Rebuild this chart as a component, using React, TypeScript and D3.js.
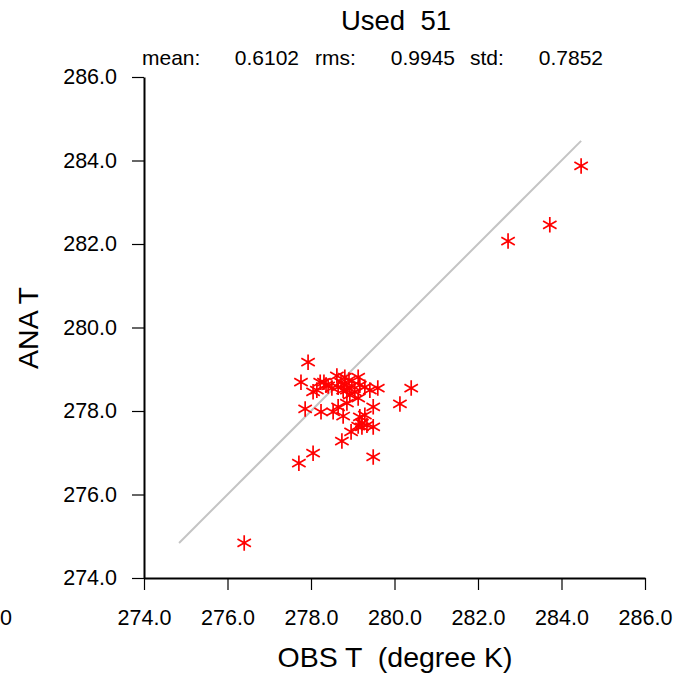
import React, { useEffect, useRef } from "react";
import * as d3 from "d3";

const obsT = [
  284.47, 283.72, 282.72, 276.40, 277.71, 278.05, 279.49, 278.74, 278.96, 277.93,
  277.76, 277.86, 280.13, 280.40, 279.60, 279.49, 279.49, 279.22, 279.34, 279.13,
  279.22, 279.17, 279.29, 278.77, 278.53, 278.24, 278.65, 278.86, 279.13, 278.05,
  278.14, 278.22, 278.31, 278.41, 278.50, 278.62, 278.81, 278.91, 279.13, 278.65,
  278.77, 278.86, 278.98, 279.29, 279.41, 279.05, 278.81, 278.72, 279.17, 278.36,
  278.93,
];
const anaT = [
  283.87, 282.46, 282.07, 274.84, 276.75, 276.99, 276.90, 277.28, 277.50, 279.17,
  278.69, 278.05, 278.17, 278.55, 278.55, 278.10, 277.62, 277.62, 277.66, 277.64,
  277.71, 277.86, 277.90, 277.88, 277.98, 277.98, 278.10, 278.19, 278.31, 278.46,
  278.50, 278.69, 278.69, 278.60, 278.55, 278.84, 278.81, 278.74, 278.81, 278.57,
  278.50, 278.50, 278.60, 278.57, 278.50, 278.46, 278.62, 278.69, 278.62, 278.62,
  278.38,
];
const tickValues = [274, 276, 278, 280, 282, 284, 286];
const titleText = "Used  51";
const statLabels = ["mean:", "rms:", "std:"];
const statValues = ["0.6102", "0.9945", "0.7852"];
const xTitle = "OBS T  (degree K)";
const yTitle = "ANA T";
const strayLabel = "0";

const W = 692;
const H = 677;
const FONT = "'Liberation Sans', Arial, Helvetica, sans-serif";

export default function App() {
  const ref = useRef<SVGSVGElement | null>(null);

  useEffect(() => {
    const svg = d3.select(ref.current);
    svg.selectAll("*").remove();

    const x = d3.scaleLinear().domain([274, 286]).range([144, 645]);
    const y = d3.scaleLinear().domain([274, 286]).range([578, 77]);
    const fmt = d3.format(".1f");

    // diagonal 1:1 line from min to max of data
    const all = obsT.concat(anaT);
    const lo = d3.min(all) as number;
    const hi = d3.max(all) as number;
    svg
      .append("line")
      .attr("x1", x(lo))
      .attr("y1", y(lo))
      .attr("x2", x(hi))
      .attr("y2", y(hi))
      .attr("stroke", "#c4c4c4")
      .attr("stroke-width", 2);

    // axes
    const xAxis = d3
      .axisBottom(x)
      .tickValues(tickValues)
      .tickFormat((d) => fmt(d as number))
      .tickSizeInner(12)
      .tickSizeOuter(0)
      .tickPadding(20);
    const gx = svg.append("g").attr("transform", `translate(0,${y(274)})`).call(xAxis);
    gx.select(".domain").attr("stroke", "#000").attr("stroke-width", 2);
    gx.selectAll(".tick line").attr("stroke", "#000").attr("stroke-width", 1.2);
    gx.selectAll(".tick text")
      .attr("font-family", FONT)
      .attr("font-size", 21.5)
      .attr("fill", "#000");

    const yAxis = d3
      .axisLeft(y)
      .tickValues(tickValues)
      .tickFormat((d) => fmt(d as number))
      .tickSizeInner(12)
      .tickSizeOuter(0)
      .tickPadding(15);
    const gy = svg.append("g").attr("transform", `translate(${x(274)},0)`).call(yAxis);
    gy.select(".domain").attr("stroke", "#000").attr("stroke-width", 2);
    gy.selectAll(".tick line").attr("stroke", "#000").attr("stroke-width", 1.2);
    gy.selectAll(".tick text")
      .attr("font-family", FONT)
      .attr("font-size", 21.5)
      .attr("fill", "#000");

    // stray label at far left
    svg
      .append("text")
      .attr("x", 0)
      .attr("y", 625)
      .attr("font-family", FONT)
      .attr("font-size", 21.5)
      .text(strayLabel);

    // markers
    const sym = d3.symbol().type(d3.symbolAsterisk).size(170);
    svg
      .append("g")
      .selectAll("path")
      .data(obsT.map((o, i) => [o, anaT[i]]))
      .join("path")
      .attr("transform", (d) => `translate(${x(d[0])},${y(d[1])})`)
      .attr("d", sym() as string)
      .attr("fill", "none")
      .attr("stroke", "#ff0000")
      .attr("stroke-width", 1.7);

    // title
    svg
      .append("text")
      .attr("x", 396)
      .attr("y", 30)
      .attr("text-anchor", "middle")
      .attr("font-family", FONT)
      .attr("font-size", 27.5)
      .style("white-space", "pre")
      .text(titleText);

    // stats
    const statLabelX = [142, 315, 470];
    const statValueX = [299, 455, 603];
    statLabels.forEach((s, i) => {
      svg
        .append("text")
        .attr("x", statLabelX[i])
        .attr("y", 65)
        .attr("font-family", FONT)
        .attr("font-size", 21)
        .text(s);
      svg
        .append("text")
        .attr("x", statValueX[i])
        .attr("y", 65)
        .attr("text-anchor", "end")
        .attr("font-family", FONT)
        .attr("font-size", 21)
        .text(statValues[i]);
    });

    // axis titles
    svg
      .append("text")
      .attr("x", 395)
      .attr("y", 667)
      .attr("text-anchor", "middle")
      .attr("font-family", FONT)
      .attr("font-size", 28.5)
      .style("white-space", "pre")
      .text(xTitle);
    svg
      .append("text")
      .attr("transform", `translate(38,328) rotate(-90)`)
      .attr("text-anchor", "middle")
      .attr("font-family", FONT)
      .attr("font-size", 28.5)
      .text(yTitle);
  }, []);

  return (
    <svg
      ref={ref}
      width={W}
      height={H}
      style={{ position: "absolute", left: 0, top: 0, background: "#fff" }}
    />
  );
}
